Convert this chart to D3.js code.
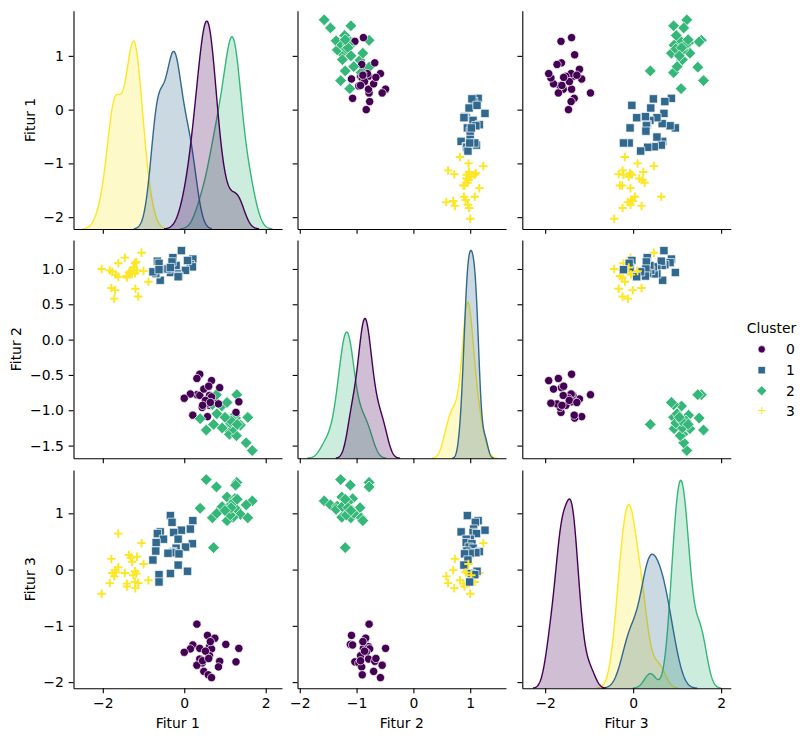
<!DOCTYPE html>
<html><head><meta charset="utf-8">
<script src="https://cdn.jsdelivr.net/npm/d3@7"></script>
<style>
body{margin:0;background:#fff;}
text{font-family:"DejaVu Sans",sans-serif;}
</style>
</head><body>
<svg id="chart" width="808" height="741"></svg>
<script>
// ---------------- DATA ----------------
const features = ["Fitur 1", "Fitur 2", "Fitur 3"];
const clusters = [0, 1, 2, 3];
const clusterColors = ["#440154", "#31688e", "#35b779", "#fde725"];
const clusterMarkers = ["circle", "square", "diamond", "plus"];

const c0f1 = [0.31,0.57,0.75,1.02,0.21,0.62,1.34,0.38,0.67,0.15,0.00,0.62,0.38,0.87,1.27,0.44,0.31,0.84,0.48,0.59,0.67,0.52,0.64,0.45,0.60];
const c0f2 = [-0.78,-1.09,-0.84,-1.11,-1.07,-0.79,-0.88,-0.49,-0.81,-0.77,-0.83,-0.93,-0.79,-0.68,-1.03,-0.96,-0.55,-0.91,-0.70,-0.90,-0.58,-0.86,-0.89,-0.93,-0.66];
const c0f3 = [-0.97,-1.17,-1.22,-1.33,-1.34,-1.37,-1.40,-1.40,-1.41,-1.41,-1.47,-1.53,-1.59,-1.63,-1.64,-1.66,-1.70,-1.73,-1.81,-1.87,-1.92,-1.45,-1.28,-1.62,-1.58];

const c1f1 = [-0.34,0.21,-0.30,0.15,-0.07,-0.59,-0.26,-0.66,-0.51,-0.15,-0.69,0.20,0.03,-0.20,-0.70,-0.28,-0.30,-0.40,-0.13,-0.77,-0.15,0.08,-0.34,-0.62,-0.62];
const c1f2 = [0.95,1.14,1.09,1.06,1.26,0.84,1.05,1.11,1.00,0.93,0.93,1.03,0.98,1.05,0.94,1.16,1.10,1.00,0.90,0.96,0.89,1.12,1.02,1.08,0.99];
const c1f3 = [0.96,0.87,0.84,0.72,0.70,0.67,0.66,0.64,0.54,0.54,0.48,0.46,0.40,0.38,0.33,0.32,0.30,0.29,0.28,0.17,0.08,-0.03,-0.07,-0.09,-0.22];

const c2f1 = [0.54,1.29,1.26,0.79,1.05,1.24,1.67,1.52,1.11,0.92,0.39,1.28,1.38,1.20,1.56,0.69,1.05,0.72,1.21,0.80,0.93,1.13,1.15,1.30,1.00];
const c2f2 = [-1.28,-0.78,-1.11,-0.78,-1.26,-1.07,-1.57,-1.46,-1.34,-0.94,-1.12,-1.36,-1.21,-1.26,-1.10,-0.92,-0.89,-1.20,-1.15,-1.05,-1.25,-1.18,-1.15,-1.20,-1.10];
const c2f3 = [1.60,1.55,1.50,1.47,1.29,1.26,1.22,1.15,1.13,1.10,1.09,1.07,0.98,0.93,0.92,0.92,0.87,0.39,1.20,1.00,1.12,0.97,1.10,1.25,1.05];

const c3f1 = [-1.62,-1.05,-1.36,-1.16,-1.31,-1.79,-1.28,-1.62,-1.70,-1.21,-1.77,-1.46,-1.18,-1.72,-0.88,-1.21,-1.83,-1.13,-1.41,-1.41,-1.20,-2.03,-1.00,-1.25,-1.68];
const c3f2 = [1.08,1.23,0.95,0.98,0.97,0.73,0.93,0.89,0.70,0.94,0.96,1.16,1.10,0.58,0.82,1.08,0.98,0.61,0.88,0.90,0.72,1.00,0.97,1.02,0.92];
const c3f3 = [0.64,0.47,0.26,0.23,0.21,0.19,0.14,0.04,-0.01,-0.03,-0.06,-0.06,-0.07,-0.12,-0.19,-0.22,-0.24,-0.24,-0.25,-0.30,-0.33,-0.43,0.10,-0.10,-0.05];

// tick values and formats
const xTicks = [[-2, 0, 2], [-2, -1, 0, 1], [-2, 0, 2]];
const yTicks = [[-2, -1, 0, 1], [-1.5, -1.0, -0.5, 0.0, 0.5, 1.0], [-2, -1, 0, 1]];
const xFormats = [d3.format("d"), d3.format("d"), d3.format("d")];
const yFormats = [d3.format("d"), d3.format(".1f"), d3.format("d")];

// axis limits (as in the reference)
const xDomains = [[-2.72, 2.40], [-2.04, 1.63], [-2.52, 2.22]];
const yDomains = [[-2.22, 1.84], [-1.68, 1.41], [-2.11, 1.77]];

// ---------------- BUILD ----------------
const table = [
  [c0f1, c0f2, c0f3],
  [c1f1, c1f2, c1f3],
  [c2f1, c2f2, c2f3],
  [c3f1, c3f2, c3f3]
];
const N = d3.sum(table, t => t[0].length);
const points = [];
const maxLen = d3.max(table, t => t[0].length);
for (let i = 0; i < maxLen; i++) {
  for (const c of clusters) {
    if (i < table[c][0].length) points.push({c, v: [table[c][0][i], table[c][1][i], table[c][2][i]]});
  }
}

const svg = d3.select("#chart");
const colX = [73.5, 297.5, 522.3];
const rowY = [10.7, 240, 470];
const W = 208.5, H = 218.3;
const tickLen = 4.86, fontPx = "13.9px";

const xScales = xDomains.map((d, j) => d3.scaleLinear().domain(d).range([colX[j], colX[j] + W]));
const yScales = yDomains.map((d, i) => d3.scaleLinear().domain(d).range([rowY[i] + H, rowY[i]]));

function markerPath(type, s) {
  const h = s / 2;
  if (type === "circle") return d3.symbol(d3.symbolCircle, Math.PI * h * h)();
  if (type === "square") return `M${-h},${-h}H${h}V${h}H${-h}Z`;
  if (type === "diamond") { const d = h * Math.SQRT2; return `M0,${-d}L${d},0L0,${d}L${-d},0Z`; }
  return `M${-h},0H${h}M0,${-h}V${h}`;
}

function kde(vals, weight) {
  const n = vals.length;
  const sd = d3.deviation(vals);
  const bw = sd * Math.pow(n, -0.2);
  const lo = d3.min(vals) - 3 * bw, hi = d3.max(vals) + 3 * bw;
  const out = [];
  const G = 200;
  for (let k = 0; k < G; k++) {
    const x = lo + (hi - lo) * k / (G - 1);
    let s = 0;
    for (const v of vals) { const z = (x - v) / bw; s += Math.exp(-0.5 * z * z); }
    out.push([x, s / (n * bw * Math.sqrt(2 * Math.PI)) * weight]);
  }
  return out;
}

function styleAxis(g) {
  g.selectAll("path.domain").attr("stroke", "#000").attr("stroke-width", 1.1);
  g.selectAll(".tick line").attr("stroke", "#000").attr("stroke-width", 1.1);
  g.selectAll(".tick text").attr("fill", "#000").style("font-size", fontPx).style("font-family", "'DejaVu Sans', sans-serif");
  g.attr("font-size", null).attr("font-family", null);
}

for (let r = 0; r < 3; r++) {
  for (let c = 0; c < 3; c++) {
    const g = svg.append("g");
    const xs = xScales[c], ys = yScales[r];
    if (r === c) {
      const curves = clusters.map(k => kde(table[k][c], table[k][c].length / N));
      const maxD = d3.max(curves, cv => d3.max(cv, p => p[1]));
      const yd = d3.scaleLinear().domain([0, maxD * 1.05]).range([rowY[r] + H, rowY[r]]);
      const area = d3.area().x(p => xs(p[0])).y0(yd(0)).y1(p => yd(p[1]));
      const line = d3.line().x(p => xs(p[0])).y(p => yd(p[1]));
      for (let k = clusters.length - 1; k >= 0; k--) {
        g.append("path").attr("d", area(curves[k])).attr("fill", clusterColors[k]).attr("fill-opacity", 0.25).attr("stroke", "none");
        g.append("path").attr("d", line(curves[k])).attr("fill", "none").attr("stroke", clusterColors[k]).attr("stroke-width", 1.4);
      }
    } else {
      g.selectAll("path.pt").data(points).enter().append("path")
        .attr("transform", d => `translate(${xs(d.v[c])},${ys(d.v[r])})`)
        .attr("d", d => markerPath(clusterMarkers[d.c], clusterMarkers[d.c] === "plus" ? 8.5 : 8.3))
        .attr("fill", d => clusterMarkers[d.c] === "plus" ? "none" : clusterColors[d.c])
        .attr("stroke", d => clusterMarkers[d.c] === "plus" ? clusterColors[d.c] : "#fff")
        .attr("stroke-width", d => clusterMarkers[d.c] === "plus" ? 1.9 : 0.7);
    }
    // axes
    const ya = d3.axisLeft(ys).tickValues(yTicks[r]).tickSize(tickLen).tickPadding(4.86).tickSizeOuter(0)
      .tickFormat(c === 0 ? yFormats[r] : () => "");
    const gy = svg.append("g").attr("transform", `translate(${colX[c]},0)`).call(ya);
    styleAxis(gy);
    const xa = d3.axisBottom(xs).tickValues(xTicks[c]).tickSize(tickLen).tickPadding(4.86).tickSizeOuter(0)
      .tickFormat(r === 2 ? xFormats[c] : () => "");
    const gx = svg.append("g").attr("transform", `translate(0,${rowY[r] + H})`).call(xa);
    styleAxis(gx);
  }
}

// axis labels
const yLabelX = [30, 16, 30];
for (let i = 0; i < 3; i++) {
  svg.append("text").attr("transform", `translate(${yLabelX[i]},${rowY[i] + H / 2}) rotate(-90)`)
    .attr("text-anchor", "middle").attr("dominant-baseline", "central")
    .style("font-size", fontPx).attr("fill", "#000").text(features[i]);
  svg.append("text").attr("x", colX[i] + W / 2).attr("y", 722.7)
    .attr("text-anchor", "middle").attr("dominant-baseline", "central")
    .style("font-size", fontPx).attr("fill", "#000").text(features[i]);
}

// legend
const lg = svg.append("g");
lg.append("text").attr("x", 771.5).attr("y", 327.5).attr("text-anchor", "middle").attr("dominant-baseline", "central")
  .style("font-size", fontPx).attr("fill", "#000").text("Cluster");
const legY = [349.3, 370.2, 390.8, 410.5];
clusters.forEach((k, i) => {
  lg.append("path").attr("transform", `translate(761.7,${legY[i]})`)
    .attr("d", markerPath(clusterMarkers[k], clusterMarkers[k] === "diamond" ? 7.2 : 7.4))
    .attr("fill", clusterMarkers[k] === "plus" ? "none" : clusterColors[k])
    .attr("stroke", clusterMarkers[k] === "plus" ? clusterColors[k] : "#fff")
    .attr("stroke-width", clusterMarkers[k] === "plus" ? 1 : 0.7);
  lg.append("text").attr("x", 786).attr("y", legY[i]).attr("dominant-baseline", "central")
    .style("font-size", fontPx).attr("fill", "#000").text(String(k));
});
</script>
</body></html>
